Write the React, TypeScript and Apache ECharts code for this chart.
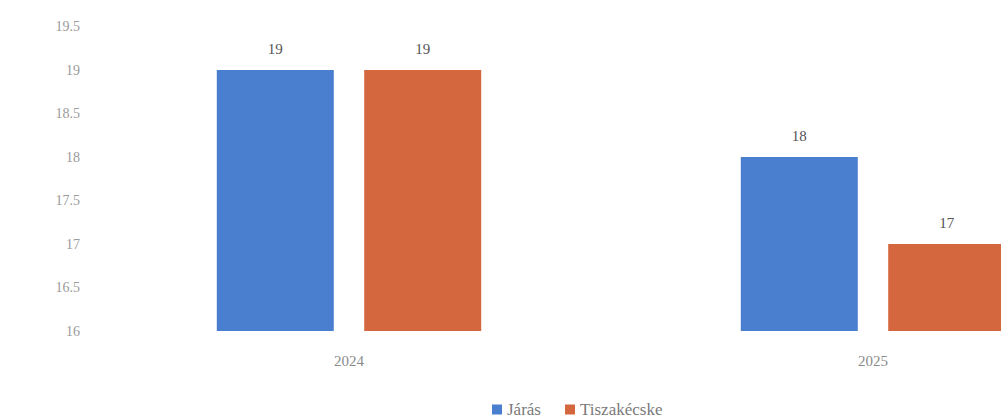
import React, { useEffect, useRef } from "react";
import * as echarts from "echarts";

const categories = ["2024", "2025"];
const jarasValues = [19, 18];
const tiszakecskeValues = [19, 17];
const seriesNames = ["Járás", "Tiszakécske"];

export default function App() {
  const ref = useRef<HTMLDivElement>(null);
  useEffect(() => {
    if (!ref.current) return;
    const chart = echarts.init(ref.current, undefined, { renderer: "svg" });
    const font = "'Liberation Serif', 'Times New Roman', serif";
    chart.setOption({
      animation: false,
      backgroundColor: "#ffffff",
      textStyle: { fontFamily: font },
      grid: { left: 87, right: 65, top: 26.5, bottom: 88 },
      legend: {
        top: 396,
        left: 487,
        itemWidth: 10,
        itemHeight: 10,
        itemGap: 24,
        icon: "rect",
        textStyle: { fontFamily: font, fontSize: 17, color: "#7a7a7a" },
        data: seriesNames,
      },
      xAxis: {
        type: "category",
        data: categories,
        axisLine: { show: false },
        axisTick: { show: false },
        axisLabel: { fontFamily: font, fontSize: 15, color: "#8a8a8a", margin: 22 },
      },
      yAxis: {
        type: "value",
        min: 16,
        max: 19.5,
        interval: 0.5,
        splitLine: { show: false },
        axisLine: { show: false },
        axisTick: { show: false },
        axisLabel: { fontFamily: font, fontSize: 14, color: "#9a9a9a", margin: 7 },
      },
      series: [
        {
          name: seriesNames[0],
          type: "bar",
          data: jarasValues,
          barWidth: 117,
          barGap: "26%",
          itemStyle: { color: "#4a7ecf" },
          label: { show: true, position: "top", distance: 14, fontFamily: font, fontSize: 15, color: "#555" },
        },
        {
          name: seriesNames[1],
          type: "bar",
          data: tiszakecskeValues,
          barWidth: 117,
          itemStyle: { color: "#d5673f" },
          label: { show: true, position: "top", distance: 14, fontFamily: font, fontSize: 15, color: "#555" },
        },
      ],
    });
    return () => chart.dispose();
  }, []);
  return (
    <div
      style={{ position: "fixed", left: 0, top: 0, width: 1001, height: 419, overflow: "hidden", background: "#fff" }}
    >
      <div ref={ref} style={{ width: 1200, height: 419 }} />
    </div>
  );
}
